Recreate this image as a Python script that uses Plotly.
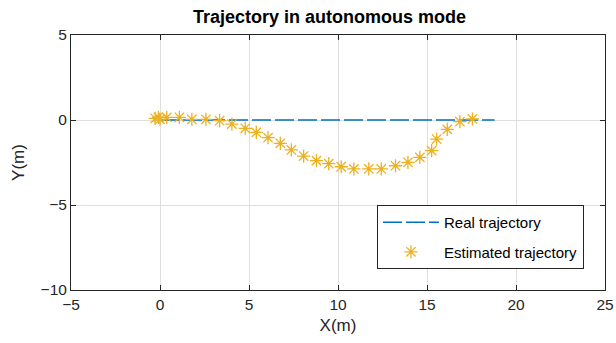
import plotly.graph_objects as go

real_x = [0, 18.8]
real_y = [0, 0]

est_x = [-0.27, -0.09, 0.0, 0.38, 1.09, 1.79, 2.58, 3.35, 4.04, 4.79, 5.41, 6.07, 6.76,
         7.38, 8.07, 8.79, 9.48, 10.18, 10.89, 11.73, 12.43, 13.23, 13.93, 14.6,
         15.26, 15.54, 16.14, 16.85, 17.55]
est_y = [0.1, 0.16, 0.05, 0.16, 0.16, 0.04, 0.04, -0.04, -0.24, -0.49, -0.73, -1.04, -1.37,
         -1.76, -2.12, -2.39, -2.57, -2.75, -2.88, -2.88, -2.88, -2.69, -2.49, -2.2,
         -1.8, -1.12, -0.55, -0.1, 0.06]

x_ticks = [-5, 0, 5, 10, 15, 20, 25]
y_ticks = [-10, -5, 0, 5]

font = "Liberation Sans, Arial, sans-serif"

fig = go.Figure()
fig.add_trace(go.Scatter(
    x=real_x, y=real_y, mode="lines", name="Real trajectory", legendgroup="a",
    line=dict(color="#0072BD", width=1.5, dash="19px,4px"),
))
fig.add_trace(go.Scatter(
    x=est_x, y=est_y, mode="markers", name="Estimated trajectory", legendgroup="b",
    marker=dict(symbol="asterisk-open", size=11, color="#EDB120",
                line=dict(color="#EDB120", width=1.3)),
))

axis_common = dict(
    showline=True, linecolor="#262626", linewidth=1, mirror="ticks",
    ticks="inside", ticklen=5, tickcolor="#262626",
    showgrid=True, gridcolor="#DFDFDF", gridwidth=1,
    zeroline=False, automargin=False,
    tickfont=dict(family=font, size=15.5, color="#262626"),
)

fig.update_layout(
    width=616, height=343,
    margin=dict(l=71, r=11, t=35, b=53),
    paper_bgcolor="white", plot_bgcolor="white",
    title=dict(text="<b>Trajectory in autonomous mode</b>", x=0.535, xanchor="center",
               y=0.95, yanchor="middle",
               font=dict(family=font, size=18, color="black")),
    xaxis=dict(range=[-5, 25], tickvals=x_ticks,
               title=dict(text="X(m)", font=dict(family=font, size=17, color="#262626"), standoff=7),
               **axis_common),
    yaxis=dict(range=[-10, 5], tickvals=y_ticks,
               title=dict(text="Y(m)", font=dict(family=font, size=17, color="#262626"), standoff=11),
               **axis_common),
    legend=dict(x=0.573, y=0.333, xanchor="left", yanchor="top",
                bgcolor="white", bordercolor="#262626", borderwidth=1,
                font=dict(family=font, size=15, color="black"),
                itemwidth=56, tracegroupgap=7, traceorder="grouped"),
    showlegend=True,
)

fig.write_html("out.html", post_script="document.body.style.margin='0';",
               config={"displayModeBar": False})
